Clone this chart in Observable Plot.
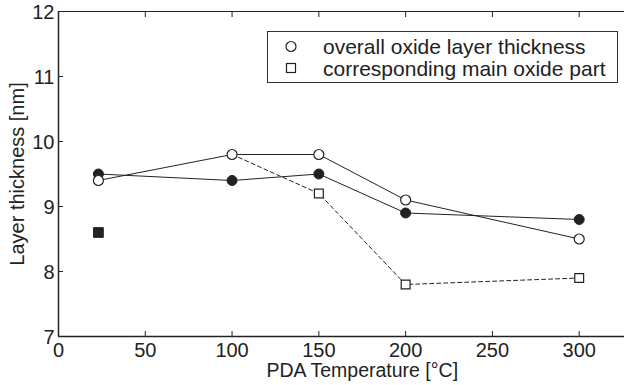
<!DOCTYPE html>
<html>
<head>
<meta charset="utf-8">
<script src="https://cdn.jsdelivr.net/npm/d3@7"></script>
<script src="https://cdn.jsdelivr.net/npm/@observablehq/plot@0.6"></script>
<style>
  html, body { margin: 0; padding: 0; background: #fff; overflow: hidden; }
  #chart { position: relative; width: 624px; height: 385px; }
  #legend { position: absolute; left: 267px; top: 31px; width: 349px; height: 50px;
            border: 1px solid #333; background: #fff; }
  #legend svg { display: block; }
</style>
</head>
<body>
<div id="chart"></div>
<script>
// ---- data ----
const temps = [23, 100, 150, 200, 300];
const overallThickness = [9.4, 9.8, 9.8, 9.1, 8.5];      // open circles, solid line
const filledThickness = [9.5, 9.4, 9.5, 8.9, 8.8];       // filled circles, solid line
const mainPartTemps = [100, 150, 200, 300];               // dashed line
const mainPartValues = [9.8, 9.2, 7.8, 7.9];
const mainPartSquareTemps = [150, 200, 300];              // open squares
const mainPartSquareValues = [9.2, 7.8, 7.9];
const refSquareTemps = [23];                              // filled square
const refSquareValues = [8.6];
const xTicks = [0, 50, 100, 150, 200, 250, 300];
const yTicks = [7, 8, 9, 10, 11, 12];
const legendLabels = ["overall oxide layer thickness", "corresponding main oxide part"];
const xLabel = "PDA Temperature [°C]";
const yLabel = "Layer thickness [nm]";
const xAxisCenter = 175;

const toRows = (xs, ys) => xs.map((x, i) => ({x, y: ys[i]}));
const overall = toRows(temps, overallThickness);
const filled = toRows(temps, filledThickness);
const mainLine = toRows(mainPartTemps, mainPartValues);
const mainSquares = toRows(mainPartSquareTemps, mainPartSquareValues);
const refSquares = toRows(refSquareTemps, refSquareValues);

const ink = "#222";
const font = "'Liberation Sans', Arial, Helvetica, sans-serif";

const chart = Plot.plot({
  width: 624,
  height: 385,
  marginLeft: 58,
  marginRight: 0,
  marginTop: 11,
  marginBottom: 49,
  style: {fontFamily: font, fontSize: "20px", color: ink, background: "#fff"},
  x: {domain: [0, 326.1]},
  y: {domain: [7, 12]},
  marks: [
    Plot.ruleY([12], {stroke: ink, strokeWidth: 1.2}),
    Plot.ruleY([7], {stroke: ink, strokeWidth: 1.5}),
    Plot.ruleX([0], {stroke: ink, strokeWidth: 1.5}),
    Plot.axisX({anchor: "bottom", ticks: xTicks, tickSize: -5, text: null, label: null, stroke: ink}),
    Plot.axisX({anchor: "bottom", ticks: xTicks, tickSize: 0, tickPadding: 6, tickFormat: d3.format("d"), label: null, fill: ink}),
    Plot.axisX({anchor: "top", ticks: xTicks, tickSize: -5, text: null, label: null, stroke: ink}),
    Plot.axisY({anchor: "left", ticks: yTicks, tickSize: -5, text: null, label: null, stroke: ink}),
    Plot.axisY({anchor: "left", ticks: yTicks, tickSize: 0, tickPadding: 4, tickFormat: d3.format("d"), dy: 1.5, label: null, fill: ink}),
    Plot.text([xLabel], {x: () => xAxisCenter, frameAnchor: "bottom", lineAnchor: "top", dy: 27, fill: ink, fontSize: 19.5}),
    Plot.text([yLabel], {frameAnchor: "left", textAnchor: "middle", rotate: -90, lineAnchor: "bottom", dx: -35, fill: ink, fontSize: 20}),
    Plot.line(mainLine, {x: "x", y: "y", stroke: ink, strokeWidth: 1, strokeDasharray: "4,3"}),
    Plot.line(overall, {x: "x", y: "y", stroke: ink, strokeWidth: 1}),
    Plot.line(filled, {x: "x", y: "y", stroke: ink, strokeWidth: 1}),
    Plot.dot(mainSquares, {x: "x", y: "y", symbol: "square", r: 5, fill: "#fff", stroke: ink, strokeWidth: 1.2}),
    Plot.dot(refSquares, {x: "x", y: "y", symbol: "square", r: 5.5, fill: ink, stroke: ink, strokeWidth: 1}),
    Plot.dot(filled, {x: "x", y: "y", r: 5, fill: ink, stroke: ink, strokeWidth: 1}),
    Plot.dot(overall, {x: "x", y: "y", r: 5, fill: "#fff", stroke: ink, strokeWidth: 1.2})
  ]
});
const host = document.getElementById("chart");
host.appendChild(chart);

// legend
const legend = document.createElement("div");
legend.id = "legend";
host.appendChild(legend);
const svg = d3.select(legend).append("svg").attr("width", 349).attr("height", 50)
  .style("font-family", font).style("font-size", "21px");
svg.append("circle").attr("cx", 23).attr("cy", 14.5).attr("r", 5)
  .attr("fill", "#fff").attr("stroke", ink).attr("stroke-width", 1.2);
svg.append("rect").attr("x", 18.5).attr("y", 31.5).attr("width", 9).attr("height", 9)
  .attr("fill", "#fff").attr("stroke", ink).attr("stroke-width", 1.2);
svg.selectAll("text").data(legendLabels).join("text")
  .attr("x", 55).attr("y", (d, i) => 22 + i * 21.5).attr("fill", ink).text(d => d);
</script>
</body>
</html>
